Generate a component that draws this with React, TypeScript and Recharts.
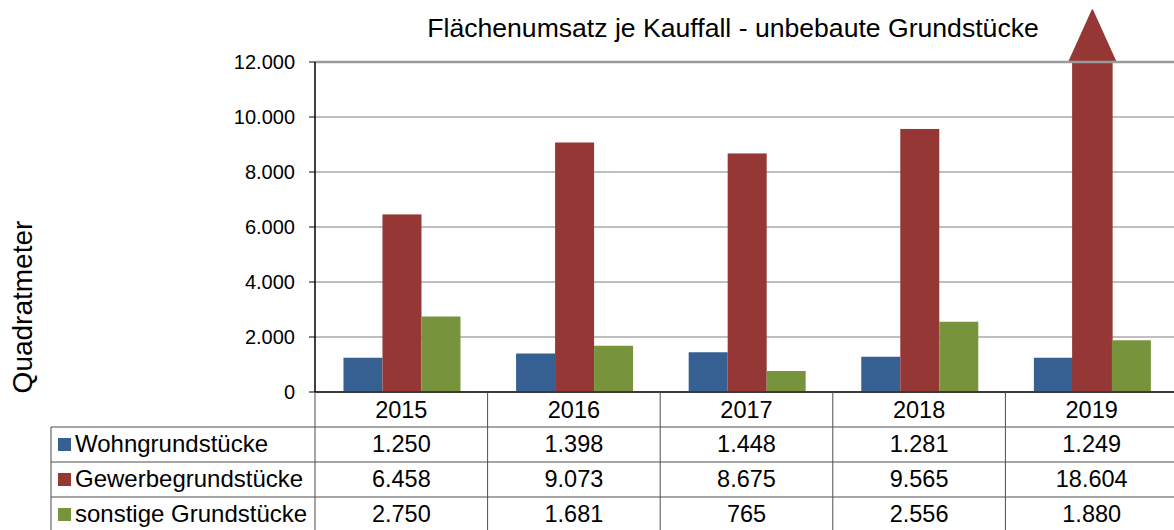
import React from "react";
import { BarChart, Bar, XAxis, YAxis, CartesianGrid, ReferenceLine } from "recharts";

const years = ["2015", "2016", "2017", "2018", "2019"];
const wohn = [1250, 1398, 1448, 1281, 1249];
const gewerbe = [6458, 9073, 8675, 9565, 18604];
const sonstige = [2750, 1681, 765, 2556, 1880];
const yTicks = [0, 2000, 4000, 6000, 8000, 10000, 12000];

const seriesNames = ["Wohngrundstücke", "Gewerbegrundstücke", "sonstige Grundstücke"];
const seriesValues = [wohn, gewerbe, sonstige];
const COLORS = ["#376092", "#953735", "#77933C"];

const W = 1174;
const H = 530;
const PLOT_LEFT = 315;
const PLOT_TOP = 62;
const PLOT_BOTTOM = 392;
const PLOT_RIGHT = 1178;
const Y_AXIS_W = 80;
const X_AXIS_H = H - PLOT_BOTTOM;
const Y_MAX = 12000;
const BAND = (PLOT_RIGHT - PLOT_LEFT) / years.length;
const ROW_H = 35;
const TABLE_LEFT = 51;
const FONT = "'Liberation Sans', Arial, sans-serif";
const LINE = "#4d4d4d";

const data = years.map((year, i) => ({
  year,
  wohn: wohn[i],
  gewerbe: Math.min(gewerbe[i], Y_MAX),
  gewerbeRaw: gewerbe[i],
  sonstige: sonstige[i],
}));

function fmt(n: number): string {
  return String(n).replace(/\B(?=(\d{3})+(?!\d))/g, ".");
}

// red bar: when the value is above the axis maximum, draw it as an arrow
function GewerbeBar(props: any) {
  const { x, y, width, height, fill, payload } = props;
  if (payload && payload.gewerbeRaw > Y_MAX) {
    const head = 52;
    const d = `M${x},${y + height} L${x},${y} L${x - 4},${y} L${x + width / 2},${y - head} L${x + width + 4},${y} L${x + width},${y} L${x + width},${y + height} Z`;
    return <path d={d} fill={fill} stroke={fill} strokeWidth={1.5} strokeLinejoin="round" />;
  }
  return <rect x={x} y={y} width={width} height={height} fill={fill} />;
}

function TableTick(props: any) {
  const { x, y, payload, index } = props;
  const i = years.indexOf(payload.value);
  const left = x - BAND / 2;
  const right = x + BAND / 2;
  return (
    <g fontFamily={FONT} fontSize={23.5} fill="#000">
      <line x1={left} y1={y} x2={left} y2={y + ROW_H * 4} stroke={LINE} />
      {index === years.length - 1 && (
        <line x1={right} y1={y} x2={right} y2={y + ROW_H * 4} stroke={LINE} />
      )}
      <text x={x} y={y + 26} textAnchor="middle">
        {payload.value}
      </text>
      {seriesValues.map((vals, r) => (
        <g key={r}>
          <line x1={left} y1={y + ROW_H * (r + 1)} x2={right} y2={y + ROW_H * (r + 1)} stroke={LINE} />
          <text x={x} y={y + ROW_H * (r + 1) + 25} textAnchor="middle">
            {fmt(vals[i])}
          </text>
        </g>
      ))}
      {index === 0 && (
        <g fontSize={24}>
          <line x1={TABLE_LEFT} y1={y + ROW_H} x2={TABLE_LEFT} y2={y + ROW_H * 4} stroke={LINE} />
          {seriesNames.map((name, r) => (
            <g key={name}>
              <line
                x1={TABLE_LEFT}
                y1={y + ROW_H * (r + 1)}
                x2={left}
                y2={y + ROW_H * (r + 1)}
                stroke={LINE}
              />
              <rect x={TABLE_LEFT + 7} y={y + ROW_H * (r + 1) + 11} width={13} height={13} fill={COLORS[r]} />
              <text x={TABLE_LEFT + 24} y={y + ROW_H * (r + 1) + 25} textAnchor="start">
                {name}
              </text>
            </g>
          ))}
        </g>
      )}
    </g>
  );
}

export default function App() {
  return (
    <div style={{ position: "absolute", left: 0, top: 0, width: W, height: H, background: "#fff", overflow: "hidden", fontFamily: FONT }}>
      <div
        style={{
          position: "absolute",
          left: 733,
          top: 15,
          transform: "translateX(-50%)",
          fontSize: 26.6,
          lineHeight: 1,
          whiteSpace: "nowrap",
          color: "#000",
        }}
      >
        Flächenumsatz je Kauffall - unbebaute Grundstücke
      </div>
      <div
        style={{
          position: "absolute",
          left: 23,
          top: 307,
          transform: "translate(-50%, -50%) rotate(-90deg)",
          fontSize: 28,
          lineHeight: 1,
          whiteSpace: "nowrap",
          color: "#000",
        }}
      >
        Quadratmeter
      </div>
      <BarChart
        width={W}
        height={H}
        data={data}
        margin={{ top: PLOT_TOP, right: W - PLOT_RIGHT, bottom: 0, left: PLOT_LEFT - Y_AXIS_W }}
        barCategoryGap="16.5%"
        barGap={0}
        style={{ position: "absolute", left: 0, top: 0 }}
      >
        <CartesianGrid vertical={false} stroke="#7f7f7f" />
        <ReferenceLine y={Y_MAX} stroke="#9a9a9a" strokeWidth={2.5} />
        <XAxis
          dataKey="year"
          height={X_AXIS_H}
          interval={0}
          tickLine={false}
          tickSize={0}
          tickMargin={0}
          axisLine={{ stroke: "#3a3a3a", strokeWidth: 2 }}
          tick={<TableTick />}
        />
        <YAxis
          width={Y_AXIS_W}
          domain={[0, Y_MAX]}
          ticks={yTicks}
          interval={0}
          tickFormatter={fmt}
          tickSize={6}
          tickMargin={14}
          axisLine={{ stroke: "#000", strokeWidth: 1.5 }}
          tickLine={{ stroke: "#000" }}
          tick={{ fill: "#000", fontSize: 20, fontFamily: FONT }}
        />
        <Bar dataKey="wohn" fill={COLORS[0]} isAnimationActive={false} />
        <Bar dataKey="gewerbe" fill={COLORS[1]} shape={<GewerbeBar />} isAnimationActive={false} />
        <Bar dataKey="sonstige" fill={COLORS[2]} isAnimationActive={false} />
      </BarChart>
    </div>
  );
}
